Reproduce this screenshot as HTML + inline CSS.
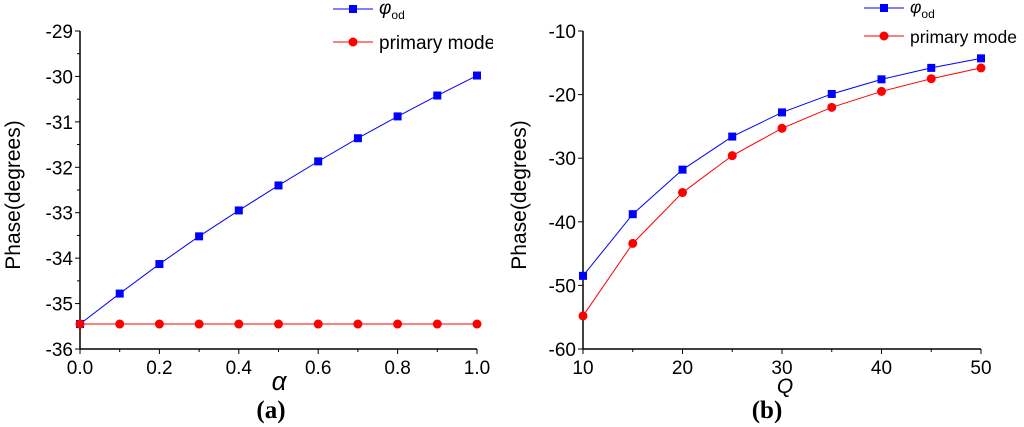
<!DOCTYPE html>
<html><head><meta charset="utf-8"><style>
html,body{margin:0;padding:0;background:#fff;width:1024px;height:427px;overflow:hidden}
svg text{font-family:"Liberation Sans",sans-serif}
</style></head><body>
<svg id="s" width="1024" height="427" xmlns="http://www.w3.org/2000/svg">
<defs><clipPath id="ca"><rect x="0" y="0" width="493" height="427"/></clipPath></defs>
<g id="ga" clip-path="url(#ca)"></g>
<g id="gb"></g>
</svg>
<script>
const alphaCats=[0,0.1,0.2,0.3,0.4,0.5,0.6,0.7,0.8,0.9,1.0];
const alphaPhi=[-35.45,-34.78,-34.13,-33.52,-32.95,-32.4,-31.87,-31.36,-30.88,-30.42,-29.98];
const alphaPrimary=[-35.45,-35.45,-35.45,-35.45,-35.45,-35.45,-35.45,-35.45,-35.45,-35.45,-35.45];
const alphaXTicks=["0.0","0.2","0.4","0.6","0.8","1.0"];
const alphaYTicks=[-36,-35,-34,-33,-32,-31,-30,-29];
const qCats=[10,15,20,25,30,35,40,45,50];
const qPhi=[-48.5,-38.8,-31.8,-26.6,-22.8,-19.9,-17.6,-15.8,-14.3];
const qPrimary=[-54.8,-43.4,-35.4,-29.6,-25.3,-22.0,-19.5,-17.5,-15.8];
const qXTicks=[10,20,30,40,50];
const qYTicks=[-60,-50,-40,-30,-20,-10];
const NS="http://www.w3.org/2000/svg";
function mk(p,t,a,txt){const e=document.createElementNS(NS,t);for(const k in a)e.setAttribute(k,a[k]);if(txt!==undefined)e.textContent=txt;p.appendChild(e);return e;}
function chart(g,o){
 const X=v=>o.x0+(v-o.xmin)/(o.xmax-o.xmin)*(o.x1-o.x0);
 const Y=v=>o.y1-(v-o.ymin)/(o.ymax-o.ymin)*(o.y1-o.y0);
 let e;
 e=mk(g,'line',{x1:o.x0,y1:o.y0,x2:o.x0,y2:o.y1,stroke:'#000','stroke-width':1.5});
 
 e=mk(g,'line',{x1:o.x0,y1:o.y1,x2:o.x1,y2:o.y1,stroke:'#000','stroke-width':1.5});
 
 for(let v=o.xmin;v<=o.xmax+1e-9;v+=o.xminor){const maj=Math.abs(v/o.xmajor-Math.round(v/o.xmajor))<1e-6;
  mk(g,'line',{x1:X(v),x2:X(v),y1:o.y1,y2:o.y1+(maj?5:3),stroke:'#000','stroke-width':1});}
 for(let v=o.ymin;v<=o.ymax+1e-9;v+=o.yminor){const maj=Math.abs(v/o.ymajor-Math.round(v/o.ymajor))<1e-6;
  mk(g,'line',{x1:o.x0,x2:o.x0-(maj?5:3),y1:Y(v),y2:Y(v),stroke:'#000','stroke-width':1});}
 o.xt.forEach(t=>{e=mk(g,'text',{x:X(+t),y:o.y1+25,'text-anchor':'middle','font-size':19},t);
  });
 o.yt.forEach(t=>{e=mk(g,'text',{x:o.x0-7,y:Y(t)+7,'text-anchor':'end','font-size':19},t);
  });
 e=mk(g,'text',{x:0,y:0,transform:`translate(${o.ytx},195) rotate(-90)`,'text-anchor':'middle','font-size':21},'Phase(degrees)');
 
 e=mk(g,'text',{x:o.xtx,y:o.xty,'text-anchor':'middle','font-size':o.xfs,'font-style':'italic','font-family':o.xfont},o.xtitle);
 
 e=mk(g,'text',{x:o.capx,y:418,'text-anchor':'middle','font-size':25,'font-weight':'bold',style:'font-family:"Liberation Serif",serif'},o.cap);
 
 const series=[[o.s1,'#0000ff','sq','phi-od-series'],[o.s2,'#ff0000','ci','primary-mode-series']];
 series.forEach(([d,c,m,n])=>{
  e=mk(g,'polyline',{points:o.cats.map((v,i)=>X(v)+','+Y(d[i])).join(' '),fill:'none',stroke:c,'stroke-width':1});
  
  o.cats.forEach((v,i)=>{
   if(m==='sq')e=mk(g,'rect',{x:X(v)-4,y:Y(d[i])-4,width:8,height:8,fill:c});
   else e=mk(g,'circle',{cx:X(v),cy:Y(d[i]),r:4.5,fill:c});
   });
 });
 const L=o.lg;
 [[L.y1,'#0000ff','sq'],[L.y2,'#ff0000','ci']].forEach(([y,c,m],k)=>{
  mk(g,'line',{x1:L.x,x2:L.x+40,y1:y,y2:y,stroke:c,'stroke-width':1});
  if(m==='sq')mk(g,'rect',{x:L.x+16,y:y-4,width:8,height:8,fill:c});else mk(g,'circle',{cx:L.x+20,cy:y,r:4.5,fill:c});
  let t;
  if(k===0){t=mk(g,'text',{x:L.x+46,y:y+5,'font-size':L.fs,'font-style':'italic'},'φ');
   mk(t,'tspan',{'font-size':12,'font-style':'normal',dy:5},'od');}
  else t=mk(g,'text',{x:L.x+46,y:y+7,'font-size':L.fs},'primary mode');
  
 });
}
chart(document.getElementById('ga'),{x0:80,x1:477,y0:31,y1:349,xmin:0,xmax:1,ymin:-36,ymax:-29,xminor:0.1,xmajor:0.2,yminor:0.5,ymajor:1,
 xt:alphaXTicks,yt:alphaYTicks,cats:alphaCats,s1:alphaPhi,s2:alphaPrimary,ytx:20,xtitle:'α',xtx:279,xty:390,xfs:26,xfont:'"DejaVu Serif",serif',cap:'(a)',capx:271,
 lg:{x:333,y1:9,y2:42,fs:19}});
chart(document.getElementById('gb'),{x0:583,x1:981,y0:31,y1:349,xmin:10,xmax:50,ymin:-60,ymax:-10,xminor:5,xmajor:10,yminor:10,ymajor:10,
 xt:qXTicks,yt:qYTicks,cats:qCats,s1:qPhi,s2:qPrimary,ytx:526,xtitle:'Q',xtx:785,xty:393,xfs:21,xfont:'"Liberation Sans",sans-serif',cap:'(b)',capx:767,
 lg:{x:864,y1:8,y2:36,fs:17.5}});
</script>
</body></html>
